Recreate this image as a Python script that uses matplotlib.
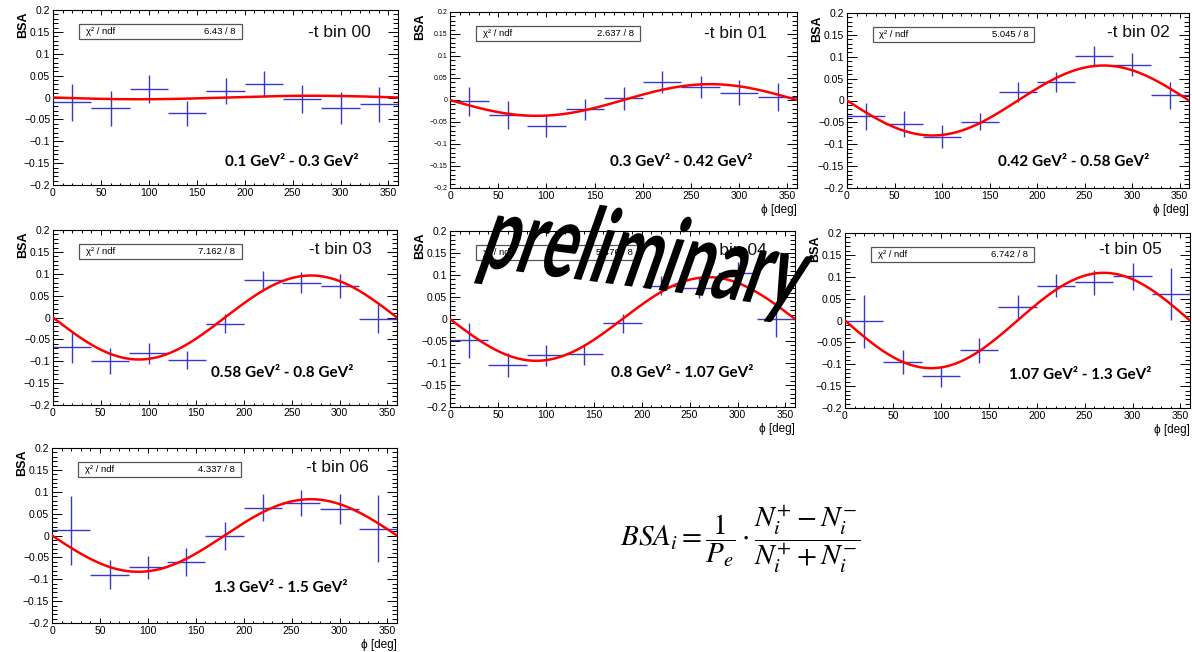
import numpy as np
import matplotlib
matplotlib.use("Agg")
import matplotlib.pyplot as plt
from matplotlib.ticker import MultipleLocator, FuncFormatter
from matplotlib.textpath import TextPath
from matplotlib.patches import PathPatch, Rectangle
from matplotlib.font_manager import FontProperties
from matplotlib.transforms import Affine2D

plt.rcParams['font.family'] = ['Liberation Sans', 'DejaVu Sans']
plt.rcParams['mathtext.fontset'] = 'stix'

# phi bin centres [deg] and half bin width
phi_centers = [20, 60, 100, 140, 180, 220, 260, 300, 340]
phi_halfwidth = 20

# BSA values and errors per -t bin
bsa_bin00 = [-0.011, -0.024, 0.019, -0.036, 0.015, 0.031, -0.004, -0.024, -0.015]
err_bin00 = [0.042, 0.040, 0.032, 0.028, 0.030, 0.030, 0.032, 0.036, 0.040]
bsa_bin01 = [-0.003, -0.034, -0.059, -0.021, 0.004, 0.040, 0.029, 0.017, 0.006]
err_bin01 = [0.033, 0.032, 0.025, 0.024, 0.026, 0.025, 0.025, 0.029, 0.032]
bsa_bin02 = [-0.036, -0.054, -0.083, -0.048, 0.020, 0.043, 0.102, 0.082, 0.012]
err_bin02 = [0.031, 0.030, 0.026, 0.020, 0.023, 0.023, 0.022, 0.027, 0.031]
bsa_bin03 = [-0.067, -0.099, -0.082, -0.097, -0.014, 0.085, 0.079, 0.072, -0.003]
err_bin03 = [0.037, 0.029, 0.024, 0.021, 0.021, 0.022, 0.024, 0.028, 0.033]
bsa_bin04 = [-0.048, -0.104, -0.082, -0.080, -0.010, 0.076, 0.070, 0.105, 0.000]
err_bin04 = [0.040, 0.027, 0.024, 0.024, 0.021, 0.022, 0.023, 0.025, 0.040]
bsa_bin05 = [-0.002, -0.095, -0.127, -0.068, 0.030, 0.080, 0.087, 0.101, 0.061]
err_bin05 = [0.060, 0.028, 0.024, 0.028, 0.028, 0.027, 0.029, 0.031, 0.059]
bsa_bin06 = [0.012, -0.090, -0.073, -0.060, -0.001, 0.064, 0.074, 0.060, 0.016]
err_bin06 = [0.079, 0.033, 0.027, 0.032, 0.033, 0.031, 0.030, 0.034, 0.077]

# fit amplitudes, BSA = A * sin(phi)
fit_amp = [-0.004, -0.036, -0.080, -0.096, -0.095, -0.109, -0.083]
chi2_text = ['6.43 / 8', '2.637 / 8', '5.045 / 8', '7.162 / 8', '5.476 / 8', '6.742 / 8', '4.337 / 8']
bin_labels = ['-t bin 00', '-t bin 01', '-t bin 02', '-t bin 03', '-t bin 04', '-t bin 05', '-t bin 06']
t_ranges = ['0.1 GeV² - 0.3 GeV²', '0.3 GeV² - 0.42 GeV²', '0.42 GeV² - 0.58 GeV²',
            '0.58 GeV² - 0.8 GeV²', '0.8 GeV² - 1.07 GeV²', '1.07 GeV² - 1.3 GeV²',
            '1.3 GeV² - 1.5 GeV²']

W, H = 1192, 652

# frame of each pad in pixels: left, top, right, bottom
frames = [(53, 10, 398, 185), (450, 12, 797, 188), (847, 13, 1189, 188),
          (53, 230, 397, 405), (450, 231, 795, 407), (845, 233, 1190, 408),
          (52, 448, 397, 623)]
# text positions in axes fraction
t_range_pos = [(0.693, 0.131), (0.666, 0.148), (0.664, 0.149), (0.666, 0.183),
               (0.672, 0.193), (0.681, 0.189), (0.664, 0.200)]
bin_label_pos = [(0.829, 0.87), (0.824, 0.88), (0.851, 0.886), (0.834, 0.886),
                 (0.826, 0.892), (0.826, 0.903), (0.826, 0.886)]
show_xlabel = [False, True, True, False, True, True, True]
ytick_size = [7.5, 5.0, 7.5, 7.5, 7.5, 7.5, 7.5]


def root_label(v, pos):
    """Format tick values the way ROOT does (0.2, 0.15, 0, -0.05 ...)"""
    v = round(v, 4)
    if v == 0:
        return '0'
    return f'{v:g}'.replace('-', '\u2212')


def draw_pad(fig, i, bsa, err):
    """Draw one BSA vs phi pad with data points, fit and labels"""
    l, t, r, b = frames[i]
    wpx, hpx = r - l, b - t
    ax = fig.add_axes([l / W, 1 - b / H, wpx / W, hpx / H])

    ax.errorbar(phi_centers, bsa, xerr=phi_halfwidth, yerr=err, fmt='none',
                ecolor='#3838c8', elinewidth=1.0, capsize=0, zorder=2)
    phi = np.linspace(0, 360, 200)
    ax.plot(phi, fit_amp[i] * np.sin(np.radians(phi)), color='#ff0000', lw=1.8, zorder=3)

    ax.set_xlim(0, 360)
    ax.set_ylim(-0.2, 0.2)
    ax.xaxis.set_major_locator(MultipleLocator(50))
    ax.xaxis.set_minor_locator(MultipleLocator(10))
    ax.yaxis.set_major_locator(MultipleLocator(0.05))
    ax.yaxis.set_minor_locator(MultipleLocator(0.01))
    ax.yaxis.set_major_formatter(FuncFormatter(root_label))
    ax.tick_params(which='both', direction='in', top=True, right=True, width=0.7)
    ax.tick_params(axis='x', which='major', length=3.6, labelsize=7.5, pad=2)
    ax.tick_params(axis='x', which='minor', length=1.8)
    ax.tick_params(axis='y', which='major', length=7, labelsize=ytick_size[i], pad=2)
    ax.tick_params(axis='y', which='minor', length=3.5)
    for s in ax.spines.values():
        s.set_linewidth(0.8)

    ax.text(-30 / wpx, 1 - 2 / hpx, 'BSA', transform=ax.transAxes, rotation=90,
            ha='center', va='top', fontsize=9, fontweight='bold')
    if show_xlabel[i]:
        ax.text(1.0, -22 / hpx, '\u03d5 [deg]', transform=ax.transAxes,
                ha='right', va='center', fontsize=8.5)

    # stat box
    ax.add_patch(Rectangle((0.075, 0.835), 0.473, 0.085, transform=ax.transAxes,
                           facecolor='white', edgecolor='#555555', lw=0.9, zorder=4))
    ax.text(0.095, 0.878, '\u03c7\u00b2 / ndf', transform=ax.transAxes, ha='left',
            va='center', fontsize=6.8, zorder=5)
    ax.text(0.53, 0.878, chi2_text[i], transform=ax.transAxes, ha='right',
            va='center', fontsize=6.8, zorder=5)

    bx, by = bin_label_pos[i]
    ax.text(bx, by, bin_labels[i], transform=ax.transAxes, ha='center', va='center',
            fontsize=12.5, color='#111111', zorder=5)
    tx, ty = t_range_pos[i]
    ax.text(tx, ty, t_ranges[i], transform=ax.transAxes, ha='center', va='center',
            fontsize=11, fontweight='bold', family=['Lato', 'DejaVu Sans'], zorder=5)
    return ax


def main():
    fig = plt.figure(figsize=(W / 100, H / 100), dpi=100)
    all_bsa = [bsa_bin00, bsa_bin01, bsa_bin02, bsa_bin03, bsa_bin04, bsa_bin05, bsa_bin06]
    all_err = [err_bin00, err_bin01, err_bin02, err_bin03, err_bin04, err_bin05, err_bin06]
    for i in range(7):
        draw_pad(fig, i, all_bsa[i], all_err[i])

    # formula
    fig.text(740 / W, 1 - 540 / H,
             r'$BSA_i = \dfrac{1}{P_e}\cdot\dfrac{N_i^{+} - N_i^{-}}{N_i^{+} + N_i^{-}}$',
             ha='center', va='center', fontsize=21)

    # big "preliminary" stamp
    tp = TextPath((0, 0), 'preliminary', size=82,
                  prop=FontProperties(family='Lato', weight='bold'))
    trans = (Affine2D().scale(0.78, 1.26).skew_deg(12, 0).rotate_deg(-7.5)
             .translate(476, H - 266).scale(1 / W, 1 / H) + fig.transFigure)
    fig.add_artist(PathPatch(tp, transform=trans, facecolor='black',
                             edgecolor='none', zorder=20))

    fig.savefig('out.png', dpi=100)


if __name__ == "__main__":
    main()
